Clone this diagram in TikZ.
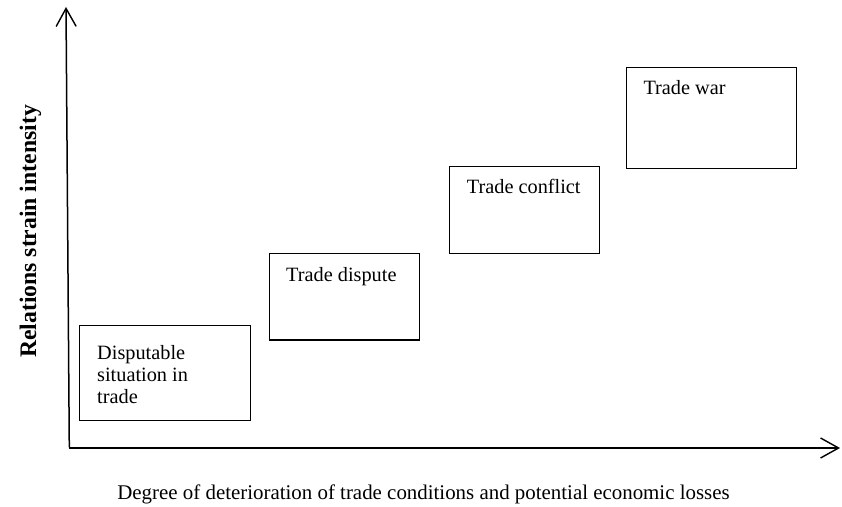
\documentclass[tikz,border=0pt]{standalone}
\usepackage{fontspec}
\setmainfont{Liberation Serif}
\usetikzlibrary{arrows.meta}
\tikzset{
  stagebox/.style={draw, line width=1.2pt, rectangle, inner sep=0pt, anchor=north west},
  stagetext/.style={anchor=base west, inner sep=0pt, align=left,
    font=\fontsize{20.3}{22}\selectfont},
  axisline/.style={line width=1.5pt, -{Straight Barb[length=18pt,width=20pt,line width=1.4pt]}}
}
\begin{document}
\begin{tikzpicture}[x=1pt,y=1pt]
\useasboundingbox (0,0) rectangle (842,506);
% axes
\coordinate (O) at (69.3,58);
\coordinate (Otop) at (69.3,58.7);
\coordinate (Ytip) at (66,499);
\coordinate (Xtip) at (840,58);
\draw[axisline] (Otop) -- (Ytip);
\draw[axisline] (O) -- (Xtip);
% axis labels
\node[rotate=90, anchor=base, inner sep=0pt, font=\fontsize{23.7}{26}\selectfont\bfseries] (ylab) at (36,274.5) {Relations strain intensity};
\node[anchor=base, inner sep=0pt, font=\fontsize{20.9}{24}\selectfont] (xlab) at (423.5,7) {Degree of deterioration of trade conditions and potential economic losses};
% boxes
\node[stagebox, minimum width=171pt, minimum height=95pt] (b1) at (79,181) {};
\node[stagebox, minimum width=150pt, minimum height=86pt] (b2) at (269,252.7) {};
\node[stagebox, minimum width=150pt, minimum height=87pt] (b3) at (449,339.7) {};
\node[stagebox, minimum width=170pt, minimum height=101pt] (b4) at (626,438.7) {};
% texts
\node[stagetext] (t1) at ([shift={(18,-78)}]b1.north west) {Disputable\\situation in\\trade};
\node[stagetext] (t2) at ([shift={(17,-28.4)}]b2.north west) {Trade dispute};
\node[stagetext] (t3) at ([shift={(17.7,-27.7)}]b3.north west) {Trade conflict};
\node[stagetext] (t4) at ([shift={(17.3,-27)}]b4.north west) {Trade war};
\end{tikzpicture}
\end{document}
